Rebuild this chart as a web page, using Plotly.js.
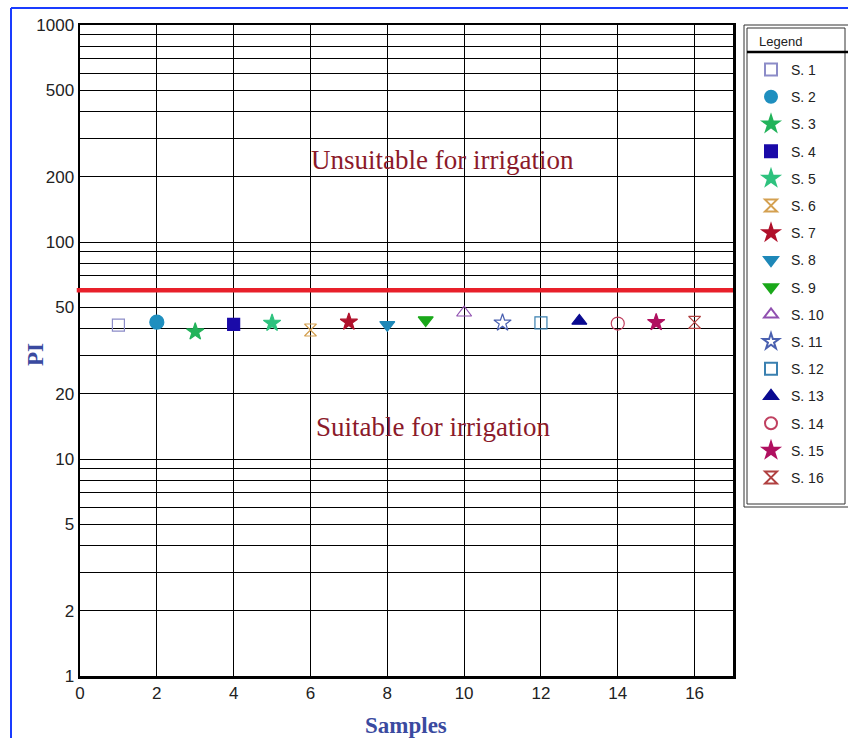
<!DOCTYPE html>
<html>
<head>
<meta charset="utf-8">
<script src="https://cdn.plot.ly/plotly-3.0.1.min.js"></script>
<style>
html,body{margin:0;padding:0;background:#fff;}
#chart{width:848px;height:738px;}
</style>
</head>
<body>
<div id="chart"></div>
<script>
// ---- data ----
const sampleNumbers = [1, 2, 3, 4, 5, 6, 7, 8, 9, 10, 11, 12, 13, 14, 15, 16];
const piValues = [41.4, 42.7, 38.6, 41.7, 42.3, 39.3, 42.8, 41.5, 43.7, 47.2, 42.4, 42.4, 43.3, 42.1, 42.6, 42.6];
const sampleNames = ["S. 1", "S. 2", "S. 3", "S. 4", "S. 5", "S. 6", "S. 7", "S. 8", "S. 9", "S. 10", "S. 11", "S. 12", "S. 13", "S. 14", "S. 15", "S. 16"];
const thresholdPI = 60;
const yGridVals = [1,2,3,4,5,6,7,8,9,10,20,30,40,50,60,70,80,90,100,200,300,400,500,600,700,800,900,1000];
const yLabelVals = [1, 2, 5, 10, 20, 50, 100, 200, 500, 1000];
const xTickVals = [0, 2, 4, 6, 8, 10, 12, 14, 16];

// ---- styles ----
const symbols = ["square-open","circle","star","square","star","hourglass-open","star","triangle-down","triangle-down","triangle-up-open","star-open","square-open","triangle-up","circle-open","star","hourglass-open"];
const colors = ["#8c8cc8","#1f8fbf","#22b35a","#1a0aa8","#2ec27e","#d4a050","#b0102a","#1e88b8","#1aa81a","#9050b0","#4a60b0","#3a80b0","#0a0a90","#c04060","#b01060","#b04040"];
const sizes = [12,14,13,12,13,12,13,13,13,13,13,12,13,13,13,12];

const traces = sampleNumbers.map((s, i) => ({
  x: [s],
  y: [piValues[i]],
  name: sampleNames[i],
  legendgroup: "g" + i,
  type: "scatter",
  mode: "markers",
  marker: {symbol: symbols[i], color: colors[i], size: sizes[i], line: {color: colors[i], width: 1.2}},
  cliponaxis: false
}));

const yTickText = yGridVals.map(v => yLabelVals.includes(v) ? String(v) : "");

const px2x = p => (p - 80) / 653;
const px2y = p => (676 - p) / 651;

const serif = "Liberation Serif, Times New Roman, serif";
const sans = "Liberation Sans, Arial, sans-serif";

const layout = {
  width: 848, height: 738,
  margin: {l: 80, r: 115, t: 25, b: 62},
  paper_bgcolor: "#fff", plot_bgcolor: "#fff",
  showlegend: true,
  legend: {
    x: px2x(751), y: px2y(54), xanchor: "left", yanchor: "top",
    borderwidth: 0,
    font: {family: sans, size: 14, color: "#222"},
    itemsizing: "constant",
    tracegroupgap: 6,
    bgcolor: "rgba(0,0,0,0)"
  },
  xaxis: {
    range: [0, 17], tickvals: xTickVals, ticktext: xTickVals.map(String),
    showgrid: true, gridcolor: "#000", gridwidth: 1,
    zeroline: false, showline: true, linecolor: "#000", linewidth: 2.5, mirror: true,
    ticks: "", tickfont: {family: sans, size: 17, color: "#222"}
  },
  yaxis: {
    type: "log", range: [0, 3], tickvals: yGridVals, ticktext: yTickText,
    showgrid: true, gridcolor: "#000", gridwidth: 1,
    zeroline: false, showline: true, linecolor: "#000", linewidth: 2.5, mirror: true,
    ticks: "", tickfont: {family: sans, size: 17, color: "#222"}
  },
  shapes: [
    {type: "line", xref: "paper", yref: "y", x0: -0.005, x1: 1, y0: thresholdPI, y1: thresholdPI, line: {color: "#e8202a", width: 4.5}},
    {type: "rect", xref: "paper", yref: "paper", x0: px2x(744), x1: px2x(852), y0: px2y(507), y1: px2y(25), line: {color: "#333", width: 1}},
    {type: "rect", xref: "paper", yref: "paper", x0: px2x(747), x1: px2x(845), y0: px2y(504), y1: px2y(28), line: {color: "#333", width: 1}},
    {type: "line", xref: "paper", yref: "paper", x0: px2x(747), x1: px2x(852), y0: px2y(52), y1: px2y(52), line: {color: "#000", width: 2.5}},
    {type: "line", xref: "paper", yref: "paper", x0: px2x(11), x1: px2x(11), y0: -0.2, y1: px2y(8), line: {color: "#1a3cff", width: 2}},
    {type: "line", xref: "paper", yref: "paper", x0: px2x(11), x1: px2x(860), y0: px2y(8), y1: px2y(8), line: {color: "#1a3cff", width: 2}}
  ],
  annotations: [
    {x: 9.45, y: Math.log10(239), xref: "x", yref: "y", text: "Unsuitable for irrigation", showarrow: false,
     font: {family: serif, size: 27, color: "#8b1a2a"}},
    {x: 9.2, y: Math.log10(14), xref: "x", yref: "y", text: "Suitable for irrigation", showarrow: false,
     font: {family: serif, size: 27, color: "#8b1a2a"}},
    {x: px2x(35), y: px2y(355), xref: "paper", yref: "paper", xanchor: "center", yanchor: "middle", text: "PI", textangle: -90, showarrow: false,
     font: {family: serif, size: 23, color: "#3a4aa0", weight: "bold"}},
    {x: px2x(406), y: px2y(725), xref: "paper", yref: "paper", xanchor: "center", yanchor: "middle", text: "Samples", showarrow: false,
     font: {family: serif, size: 23, color: "#3a4aa0", weight: "bold"}},
    {x: px2x(757), y: px2y(41), xref: "paper", yref: "paper", xanchor: "left", yanchor: "middle", text: "Legend", showarrow: false,
     font: {family: sans, size: 13, color: "#222"}}
  ]
};

Plotly.newPlot("chart", traces, layout, {displayModeBar: false, staticPlot: true});
</script>
</body>
</html>
